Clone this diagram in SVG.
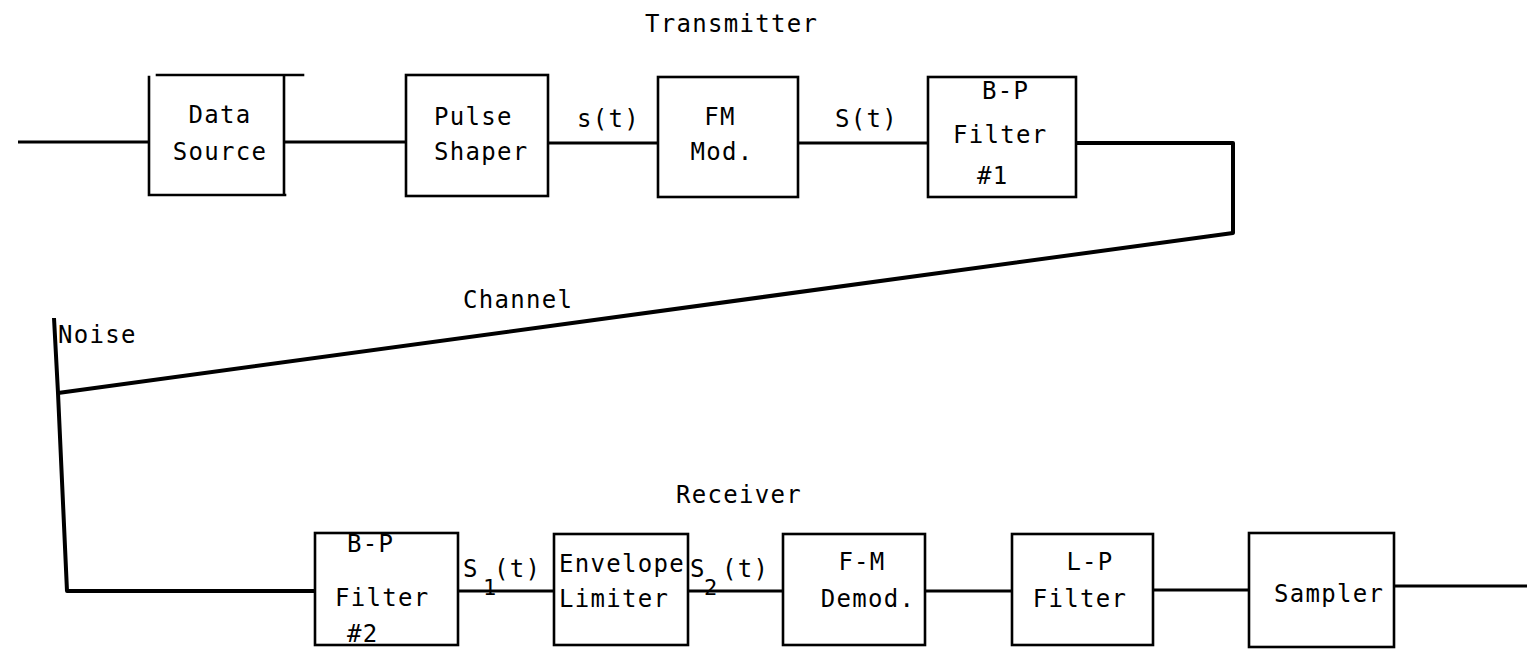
<svg xmlns="http://www.w3.org/2000/svg" width="1527" height="655" viewBox="0 0 1527 655">
<style>
.b{fill:none;stroke:#000;stroke-width:2.6;stroke-linecap:square}
.c{fill:none;stroke:#000;stroke-width:3;stroke-linejoin:round}
.d{fill:none;stroke:#000;stroke-width:4;stroke-linejoin:round}
text{font-family:"DejaVu Sans Mono","Liberation Mono",monospace;font-size:24px;letter-spacing:1.3px;fill:#000}
.m{text-anchor:middle}
.s{font-size:22px}
</style>
<rect width="1527" height="655" fill="#fff"/>
<text x="645" y="32">Transmitter</text>
<text x="463" y="308">Channel</text>
<text x="58" y="343">Noise</text>
<text x="676" y="503">Receiver</text>
<g id="connectors">
<path class="c" d="M18 142H149M284 142H406M548 143H658M798 143H928"/>
<path class="d" d="M1076 143H1233V233L58 393"/>
<path class="d" d="M54 318L58 393L67 591H315"/>
<path class="c" d="M458 591H554M688 591H783M925 591H1012M1153 590H1249M1394 586H1527"/>
<text x="577" y="127">s(t)</text>
<text x="835" y="127">S(t)</text>
<text x="463" y="577">S</text><text class="s" x="483" y="595">1</text><text x="494" y="577">(t)</text>
<text x="690" y="577">S</text><text class="s" x="704" y="595">2</text><text x="722" y="577">(t)</text>
</g>
<g id="data-source">
<path class="b" d="M157 75H303M149 77V195H285M284 76V195"/>
<text class="m" x="220" y="123">Data</text>
<text class="m" x="220" y="160">Source</text>
</g>
<g id="pulse-shaper">
<rect class="b" x="406" y="75" width="142" height="121"/>
<text x="434" y="125">Pulse</text>
<text x="434" y="160">Shaper</text>
</g>
<g id="fm-mod">
<rect class="b" x="658" y="77" width="140" height="120"/>
<text class="m" x="720" y="125">FM</text>
<text class="m" x="722" y="160">Mod.</text>
</g>
<g id="bp-filter-1">
<rect class="b" x="928" y="77" width="148" height="120"/>
<text x="982" y="99">B-P</text>
<text x="953" y="143">Filter</text>
<text x="977" y="184">#1</text>
</g>
<g id="bp-filter-2">
<rect class="b" x="315" y="533" width="143" height="112"/>
<text x="347" y="552">B-P</text>
<text x="335" y="606">Filter</text>
<text x="347" y="642">#2</text>
</g>
<g id="envelope-limiter">
<rect class="b" x="554" y="534" width="134" height="111"/>
<text x="559" y="572">Envelope</text>
<text x="559" y="607">Limiter</text>
</g>
<g id="fm-demod">
<rect class="b" x="783" y="534" width="142" height="111"/>
<text class="m" x="862" y="570">F-M</text>
<text class="m" x="868" y="607">Demod.</text>
</g>
<g id="lp-filter">
<rect class="b" x="1012" y="534" width="141" height="111"/>
<text class="m" x="1090" y="570">L-P</text>
<text class="m" x="1080" y="607">Filter</text>
</g>
<g id="sampler">
<rect class="b" x="1249" y="533" width="145" height="114"/>
<text x="1274" y="602">Sampler</text>
</g>
</svg>
